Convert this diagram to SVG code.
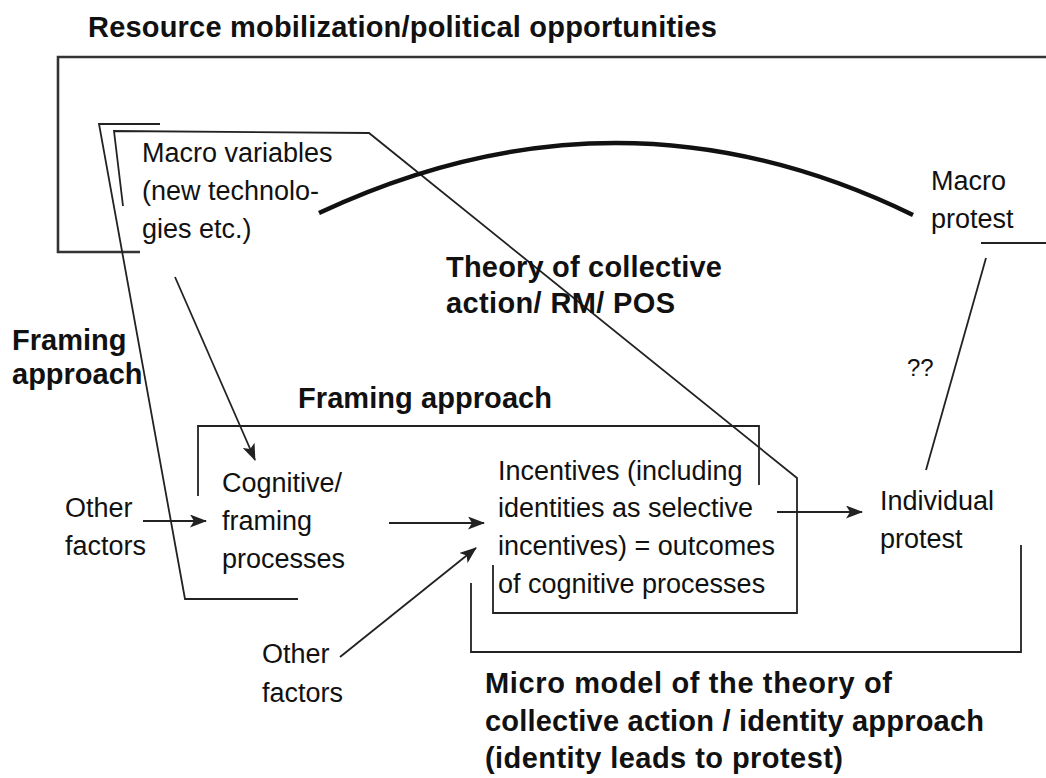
<svg xmlns="http://www.w3.org/2000/svg" width="1046" height="778" viewBox="0 0 1046 778">
<style>
text{font-family:"Liberation Sans",Arial,sans-serif;fill:#111}
.n{font-size:27px}
.b{font-size:29px;font-weight:bold}
.q{font-size:24px}
.ln{fill:none;stroke:#222;stroke-width:1.8;stroke-linejoin:miter}
.thick{fill:none;stroke:#111;stroke-width:4.5;stroke-linecap:butt}
</style>
<defs>
<marker id="ah" viewBox="0 0 17 13" refX="16" refY="6.5" markerWidth="17" markerHeight="13" markerUnits="userSpaceOnUse" orient="auto">
<path d="M0,0 L17,6.5 L0,13 L4,6.5 Z" fill="#222"/>
</marker>
</defs>
<rect width="1046" height="778" fill="#fff"/>
<g id="connectors">
<path class="ln" style="stroke-width:2.6;stroke:#333" d="M1046,57 H58 V252 H140"/>
<path class="ln" d="M160,124 H99 L185,599 H298"/>
<path class="ln" d="M123,206 L114,131 L369,133 L797,478 V613 H493 V565"/>
<path class="ln" d="M198,496 V426 H759 V485"/>
<path class="ln" d="M471,583 V652 H1021 V545"/>
<path class="ln" d="M981,243 H1046"/>
<path class="ln" d="M986,258 L926,470"/>
<path class="thick" d="M319,213 Q620,72 913,215"/>
<path class="ln" marker-end="url(#ah)" d="M175,277 L255,460"/>
<path class="ln" marker-end="url(#ah)" d="M143,521 H206"/>
<path class="ln" marker-end="url(#ah)" d="M389,523 H484"/>
<path class="ln" marker-end="url(#ah)" d="M340,657 L476,548"/>
<path class="ln" marker-end="url(#ah)" d="M777,512 H862"/>
</g>
<g id="title-rm"><text class="b" x="88" y="37" textLength="629">Resource mobilization/political opportunities</text></g>
<g id="macro-variables">
<text class="n" x="142" y="162">Macro variables</text>
<text class="n" x="142" y="200">(new technolo-</text>
<text class="n" x="142" y="238">gies etc.)</text>
</g>
<g id="macro-protest">
<text class="n" x="931" y="190">Macro</text>
<text class="n" x="931" y="228">protest</text>
</g>
<g id="theory-label">
<text class="b" x="446" y="277" textLength="276">Theory of collective</text>
<text class="b" x="446" y="313" textLength="229">action/ RM/ POS</text>
</g>
<g id="framing-left-label">
<text class="b" x="12" y="350">Framing</text>
<text class="b" x="12" y="384">approach</text>
</g>
<g id="qq"><text class="q" x="907" y="376">??</text></g>
<g id="framing-label"><text class="b" x="298" y="408" textLength="254">Framing approach</text></g>
<g id="other-factors-1">
<text class="n" x="65" y="517">Other</text>
<text class="n" x="65" y="555">factors</text>
</g>
<g id="cognitive">
<text class="n" x="222" y="492">Cognitive/</text>
<text class="n" x="222" y="530">framing</text>
<text class="n" x="222" y="568">processes</text>
</g>
<g id="incentives">
<text class="n" x="498" y="480">Incentives (including</text>
<text class="n" x="498" y="517">identities as selective</text>
<text class="n" x="498" y="555">incentives) = outcomes</text>
<text class="n" x="498" y="593">of cognitive processes</text>
</g>
<g id="individual-protest">
<text class="n" x="880" y="510">Individual</text>
<text class="n" x="880" y="548">protest</text>
</g>
<g id="other-factors-2">
<text class="n" x="262" y="663">Other</text>
<text class="n" x="262" y="702">factors</text>
</g>
<g id="micro-label">
<text class="b" x="485" y="693" textLength="407">Micro model of the theory of</text>
<text class="b" x="485" y="731" textLength="499">collective action / identity approach</text>
<text class="b" x="485" y="768" textLength="358">(identity leads to protest)</text>
</g>
</svg>
